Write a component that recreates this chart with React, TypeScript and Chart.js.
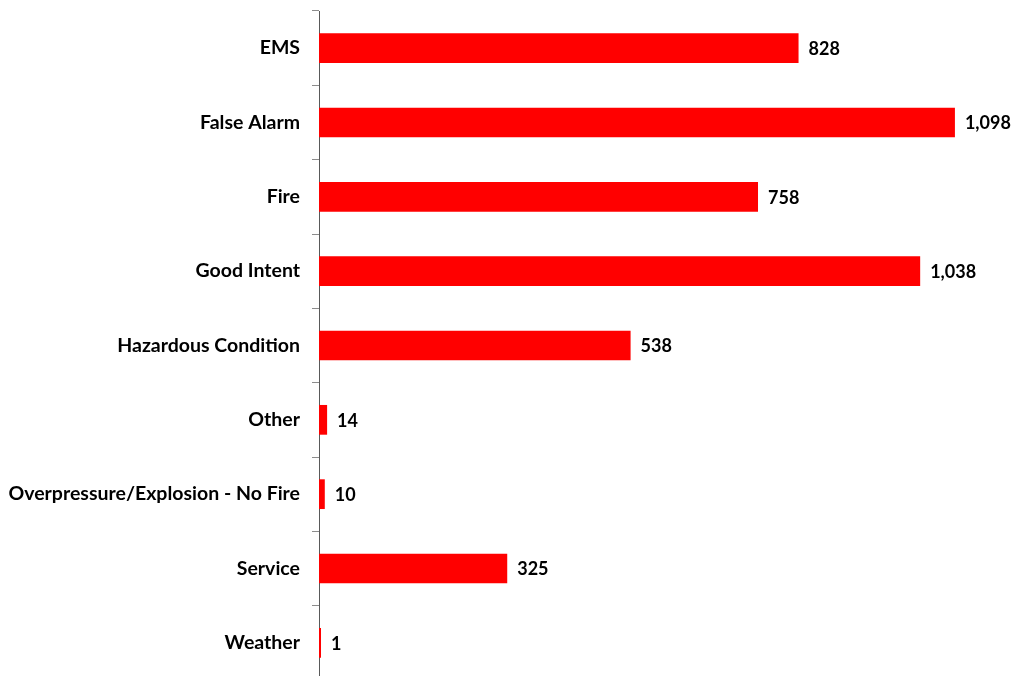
import React, { useEffect, useRef } from "react";
import { Chart, registerables } from "chart.js";

Chart.register(...registerables);

const categories = [
  "EMS",
  "False Alarm",
  "Fire",
  "Good Intent",
  "Hazardous Condition",
  "Other",
  "Overpressure/Explosion - No Fire",
  "Service",
  "Weather",
];
const counts = [828, 1098, 758, 1038, 538, 14, 10, 325, 1];

const FONT = "Lato, 'Open Sans', sans-serif";

const valueLabels = {
  id: "valueLabels",
  afterDatasetsDraw(chart: any) {
    const ctx = chart.ctx;
    const meta = chart.getDatasetMeta(0);
    ctx.save();
    ctx.font = `bold 18px ${FONT}`;
    ctx.fillStyle = "#000000";
    ctx.textAlign = "left";
    ctx.textBaseline = "middle";
    meta.data.forEach((bar: any, i: number) => {
      const v = chart.data.datasets[0].data[i] as number;
      ctx.fillText(v.toLocaleString("en-US"), Math.max(bar.x, 320) + 10, bar.y + 1);
    });
    ctx.restore();
  },
};

export default function App() {
  const ref = useRef<HTMLCanvasElement | null>(null);
  useEffect(() => {
    if (!ref.current) return;
    const chart = new Chart(ref.current, {
      type: "bar",
      data: {
        labels: categories,
        datasets: [
          {
            data: counts,
            backgroundColor: "#FF0000",
            borderWidth: 0,
            categoryPercentage: 1,
            barPercentage: 0.4,
            minBarLength: 2,
          },
        ],
      },
      options: {
        indexAxis: "y",
        animation: false,
        responsive: false,
        layout: { padding: { top: 11, bottom: 4, left: 0, right: 1 } },
        plugins: { legend: { display: false }, tooltip: { enabled: false } },
        scales: {
          x: {
            min: 0,
            max: 1200,
            display: false,
          },
          y: {
            afterFit(scale: any) {
              scale.width = 319;
              scale.paddingTop = 0;
              scale.paddingBottom = 0;
            },
            border: { display: true, color: "#595959", width: 1 },
            grid: {
              display: true,
              drawOnChartArea: false,
              drawTicks: true,
              tickLength: 7,
              color: "#8c8c8c",
              offset: true,
            },
            ticks: {
              color: "#000000",
              padding: 12,
              font: { family: FONT, size: 19.5, weight: "bold" },
            },
          },
        },
      },
      plugins: [valueLabels],
    });
    return () => chart.destroy();
  }, []);
  return (
    <div
      style={{
        position: "fixed",
        left: 0,
        top: 0,
        width: 1015,
        height: 676,
        overflow: "hidden",
        background: "#fff",
      }}
    >
      <canvas ref={ref} width={1015} height={684} style={{ display: "block" }} />
    </div>
  );
}
